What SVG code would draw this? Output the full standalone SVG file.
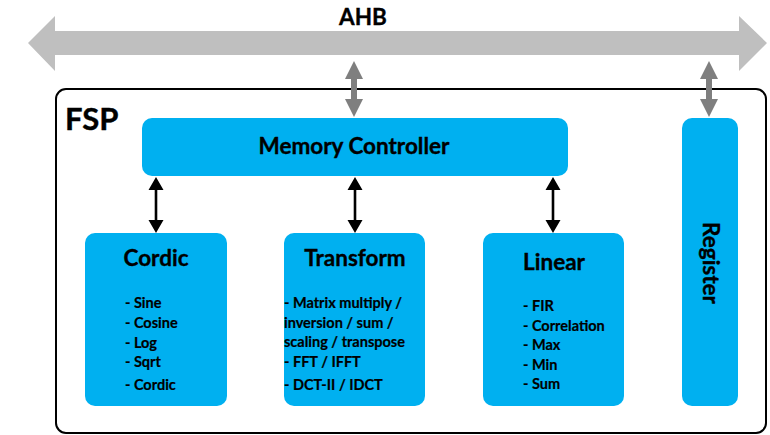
<svg xmlns="http://www.w3.org/2000/svg" width="770" height="435" viewBox="0 0 770 435">
  <style>
    text { font-family: Lato, "Liberation Sans", Arial, sans-serif; font-weight: bold; fill: #000; }
    .block { fill: #00B0F0; }
    .title { font-size: 22.5px; text-anchor: middle; stroke: #000; stroke-width: 0.35px; }
    .item { font-size: 14.5px; stroke: #000; stroke-width: 0.2px; }
    .bus { fill: #BFBFBF; }
    .gray { fill: #7F7F7F; }
    .black { fill: #000; }
  </style>

  <!-- AHB system bus -->
  <g id="ahb">
    <polygon class="bus" points="28,43 55,16 55,31 739,31 739,16 767,43 739,71 739,55 55,55 55,71"/>
    <text class="title" x="363" y="25">AHB</text>
  </g>

  <!-- FSP subsystem boundary -->
  <g id="fsp">
    <rect x="56" y="89" width="710" height="344" rx="10" ry="10" fill="#fff" stroke="#000" stroke-width="2"/>
    <text x="65" y="130" font-size="31px" stroke="#000" stroke-width="0.4">FSP</text>
  </g>

  <g id="memory-controller">
    <rect class="block" x="142" y="118" width="426" height="58" rx="10" ry="10"/>
    <text class="title" x="354" y="154">Memory Controller</text>
  </g>

  <g id="register">
    <rect class="block" x="682" y="118" width="56" height="288" rx="10" ry="10"/>
    <text class="title" transform="translate(703,263) rotate(90)" x="0" y="0">Register</text>
  </g>

  <g id="cordic">
    <rect class="block" x="85" y="233" width="142" height="173" rx="10" ry="10"/>
    <text class="title" x="156" y="266">Cordic</text>
    <text class="item" x="125" y="308">- Sine</text>
    <text class="item" x="125" y="328">- Cosine</text>
    <text class="item" x="125" y="348">- Log</text>
    <text class="item" x="125" y="367">- Sqrt</text>
    <text class="item" x="125" y="390">- Cordic</text>
  </g>

  <g id="transform">
    <rect class="block" x="284" y="233" width="141" height="173" rx="10" ry="10"/>
    <text class="title" x="355" y="266">Transform</text>
    <text class="item" x="284" y="308">- Matrix multiply /</text>
    <text class="item" x="284" y="328">inversion / sum /</text>
    <text class="item" x="284" y="347">scaling / transpose</text>
    <text class="item" x="284" y="367">- FFT / IFFT</text>
    <text class="item" x="284" y="390">- DCT-II / IDCT</text>
  </g>

  <g id="linear">
    <rect class="block" x="483" y="233" width="141" height="173" rx="10" ry="10"/>
    <text class="title" x="554" y="270">Linear</text>
    <text class="item" x="523" y="311">- FIR</text>
    <text class="item" x="523" y="331">- Correlation</text>
    <text class="item" x="523" y="350">- Max</text>
    <text class="item" x="523" y="370">- Min</text>
    <text class="item" x="523" y="389">- Sum</text>
  </g>

  <!-- bidirectional links -->
  <g id="connectors">
    <!-- bus to memory controller -->
    <polygon class="gray" points="354,61 363,79 357,79 357,99 363,99 354,117 345,99 351,99 351,79 345,79"/>
    <!-- bus to register -->
    <polygon class="gray" points="709,61 718,79 712,79 712,99 718,99 709,117 700,99 706,99 706,79 700,79"/>
    <!-- memory controller to compute blocks -->
    <polygon class="black" points="156,177 163.5,190 157.3,190 157.3,220 163.5,220 156,233 148.5,220 154.7,220 154.7,190 148.5,190"/>
    <polygon class="black" points="355,177 362.5,190 356.3,190 356.3,220 362.5,220 355,233 347.5,220 353.7,220 353.7,190 347.5,190"/>
    <polygon class="black" points="553,177 560.5,190 554.3,190 554.3,220 560.5,220 553,233 545.5,220 551.7,220 551.7,190 545.5,190"/>
  </g>
</svg>
